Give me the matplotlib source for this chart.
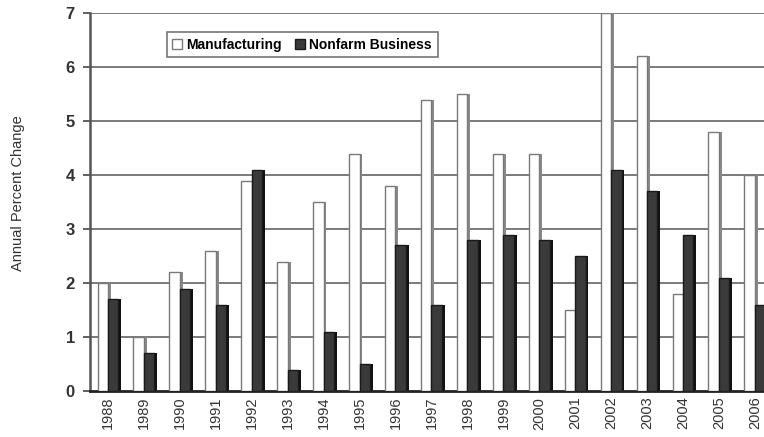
import matplotlib
matplotlib.use("Agg")
import matplotlib.pyplot as plt
import numpy as np

plt.rcParams['font.family'] = ['Liberation Sans', 'DejaVu Sans']

# Datos
years = [str(y) for y in range(1988, 2007)]
manufacturing = [2.0, 1.0, 2.2, 2.6, 3.9, 2.4, 3.5, 4.4, 3.8, 5.4, 5.5, 4.4, 4.4, 1.5, 7.0, 6.2, 1.8, 4.8, 4.0]
nonfarm = [1.7, 0.7, 1.9, 1.6, 4.1, 0.4, 1.1, 0.5, 2.7, 1.6, 2.8, 2.9, 2.8, 2.5, 4.1, 3.7, 2.9, 2.1, 1.6]
y_ticks = [0, 1, 2, 3, 4, 5, 6, 7]

x = np.arange(len(years))
w = 0.29      # ancho de la cara frontal
d = 0.08      # profundidad (lado en sombra)

fig = plt.figure(figsize=(7.64, 4.37), dpi=100)
ax = fig.add_axes([0.118, 0.105, 0.882, 0.865])

# lineas de cuadricula
for t in y_ticks[1:]:
    ax.axhline(t, color='#6f6f6f', lw=1.3, zorder=1)

# lado en sombra (efecto 3D)
ax.bar(x - 0.15 + w / 2 + d / 2, manufacturing, width=d, color='#8a8a8a', zorder=2)
ax.bar(x + 0.14 + w / 2 + d / 2, nonfarm, width=d, color='#111111', zorder=2)

# caras frontales
b1 = ax.bar(x - 0.15, manufacturing, width=w, color='white', edgecolor='#7a7a7a',
            lw=1.0, zorder=3, label='Manufacturing')
b2 = ax.bar(x + 0.14, nonfarm, width=w, color='#3a3a3a', edgecolor='#1a1a1a',
            lw=1.0, zorder=3, label='Nonfarm Business')

ax.set_xlim(-0.5, 18.25)
ax.set_ylim(0, 7)
ax.set_yticks(y_ticks)
ax.set_yticklabels([str(t) for t in y_ticks], fontsize=12, fontweight='bold', color='#333333')
ax.set_xticks(x)
ax.set_xticklabels(years, rotation=90, fontsize=10.5, color='#333333')
ax.tick_params(axis='x', length=0, pad=4)
ax.tick_params(axis='y', length=5, width=1.2, color='#444444', pad=6)

for s in ['top', 'right']:
    ax.spines[s].set_visible(False)
ax.spines['left'].set_color('#555555')
ax.spines['left'].set_linewidth(1.8)
ax.spines['bottom'].set_color('#222222')
ax.spines['bottom'].set_linewidth(2)

fig.text(0.024, 0.558, 'Annual Percent Change', rotation=90, fontsize=10.5,
         color='#333333', ha='center', va='center')

leg = ax.legend(handles=[b1, b2], loc='upper left', bbox_to_anchor=(0.103, 0.968),
                ncol=2, frameon=True, fancybox=False, edgecolor='#555555',
                prop={'size': 10, 'weight': 'bold'}, handlelength=0.7, handleheight=0.7,
                handletextpad=0.3, columnspacing=1.0, borderpad=0.4)
leg.get_frame().set_linewidth(1.2)

fig.savefig('out.png', dpi=100)
